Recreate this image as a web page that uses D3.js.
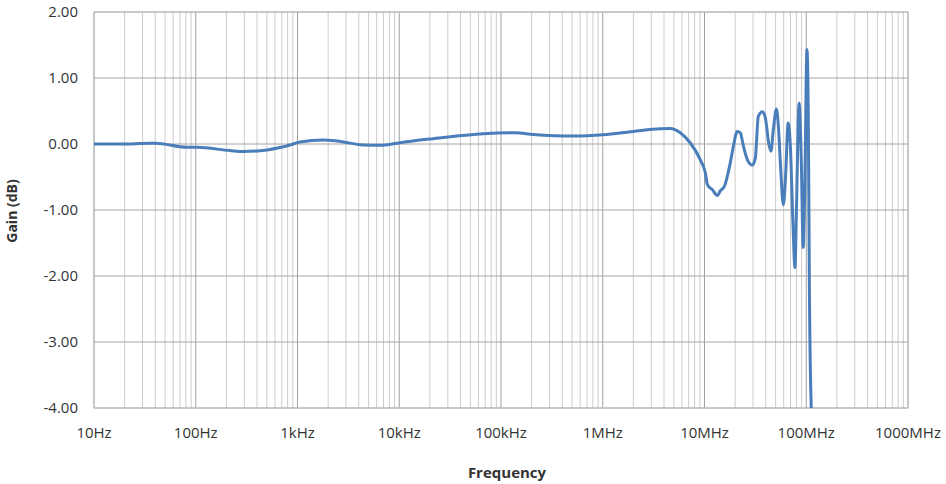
<!DOCTYPE html>
<html>
<head>
<meta charset="utf-8">
<script src="https://cdn.jsdelivr.net/npm/d3@7"></script>
<style>
  body { margin: 0; background: #fff; }
  text { font-family: "Open Sans", Lato, sans-serif; fill: #333; }
</style>
</head>
<body>
<div id="chart"></div>
<script>
// frequence (Hz) et gain (dB)
const freq = [10, 18, 36, 40, 82, 103, 217, 292, 502, 845, 1060, 1790, 2450, 4420, 6490,
  10200, 16100, 21500, 66800, 138000, 207000, 513000, 1.01e6, 2.0e6, 3.67e6, 4.61e6,
  5.78e6, 7.26e6, 9.10e6, 10.2e6, 10.7e6, 11.9e6, 13.4e6, 14.3e6, 15.7e6, 17.9e6,
  19.2e6, 21.0e6, 22.5e6, 24.1e6, 26.4e6, 29.5e6, 31.6e6, 33.8e6, 37.1e6, 39.6e6,
  42.9e6, 45.0e6, 47.5e6, 50.9e6, 53.2e6, 55.7e6, 59.6e6, 62.4e6, 66.4e6, 69.8e6,
  74.0e6, 77.5e6, 80.0e6, 85.0e6, 89.5e6, 93.3e6, 96.4e6, 101.7e6, 105e6, 107.4e6, 112e6];
const gain = [0.0, 0.0, 0.01, 0.01, -0.05, -0.05, -0.10, -0.115, -0.09, -0.015, 0.03, 0.06, 0.045,
  -0.015, -0.02, 0.02, 0.06, 0.08, 0.155, 0.17, 0.145, 0.12, 0.14, 0.19, 0.23, 0.235,
  0.17, 0.015, -0.24, -0.44, -0.62, -0.69, -0.78, -0.71, -0.64, -0.29, -0.04, 0.19,
  0.17, -0.03, -0.24, -0.32, -0.21, 0.42, 0.49, 0.40,
  0.0, -0.11, 0.22, 0.53, 0.27, -0.29, -0.92, -0.54, 0.32, -0.03,
  -1.2, -1.87, -1.04, 0.62, -0.29, -1.57, -0.79, 1.43, 0.22, -2.2, -4.0];

const yTicks = [2, 1, 0, -1, -2, -3, -4];
const xTicks = [1e1, 1e2, 1e3, 1e4, 1e5, 1e6, 1e7, 1e8, 1e9];
const xLabels = ["10Hz", "100Hz", "1kHz", "10kHz", "100kHz", "1MHz", "10MHz", "100MHz", "1000MHz"];

const margin = {top: 12, right: 38, bottom: 76, left: 94},
      width = 946 - margin.left - margin.right,
      height = 484 - margin.top - margin.bottom;

const svg = d3.select("#chart")
    .append("svg")
    .attr("width", 946)
    .attr("height", 484)
    .append("g")
    .attr("transform", "translate(" + margin.left + "," + margin.top + ")");

const x = d3.scaleLog().domain([1e1, 1e9]).range([0, width]);
const y = d3.scaleLinear().domain([-4, 2]).range([height, 0]);

// grille verticale mineure (2..9 de chaque decade)
let minor = [];
for (let d = 1; d < 9; d++) {
  for (let k = 2; k <= 9; k++) minor.push(k * Math.pow(10, d));
}
svg.append("g").selectAll("line").data(minor).join("line")
    .attr("x1", d => x(d)).attr("x2", d => x(d))
    .attr("y1", 0).attr("y2", height)
    .attr("stroke", "#cccccc").attr("stroke-width", 1);

svg.append("g").selectAll("line").data(xTicks).join("line")
    .attr("x1", d => x(d)).attr("x2", d => x(d))
    .attr("y1", 0).attr("y2", height)
    .attr("stroke", "#a0a0a0").attr("stroke-width", 1);

svg.append("g").selectAll("line").data(yTicks).join("line")
    .attr("x1", 0).attr("x2", width)
    .attr("y1", d => y(d)).attr("y2", d => y(d))
    .attr("stroke", "#a6a6a6").attr("stroke-width", 1);

svg.append("rect")
    .attr("width", width).attr("height", height)
    .attr("fill", "none").attr("stroke", "#bfbfbf");

// etiquettes
svg.append("g").selectAll("text").data(yTicks).join("text")
    .attr("x", -16).attr("y", d => y(d)).attr("dy", "0.35em")
    .attr("text-anchor", "end").style("font-size", "15px")
    .text(d => d.toFixed(2));

svg.append("g").selectAll("text").data(xTicks).join("text")
    .attr("x", d => x(d)).attr("y", height + 30)
    .attr("text-anchor", "middle").style("font-size", "15px")
    .text((d, i) => xLabels[i]);

svg.append("text")
    .attr("x", width / 2 + 6).attr("y", height + 70)
    .attr("text-anchor", "middle").style("font-size", "15px").style("font-weight", "bold")
    .text("Frequency");

svg.append("text")
    .attr("transform", "translate(" + (-77) + "," + (height / 2 + 1) + ") rotate(-90)")
    .attr("text-anchor", "middle").style("font-size", "14px").style("font-weight", "bold")
    .text("Gain (dB)");

svg.append("clipPath").attr("id", "clip")
    .append("rect").attr("width", width).attr("height", height);

const line = d3.line()
    .x((d, i) => x(freq[i]))
    .y(d => y(d))
    .curve(d3.curveMonotoneX);

svg.append("path")
    .datum(gain)
    .attr("clip-path", "url(#clip)")
    .attr("d", line)
    .attr("fill", "none")
    .attr("stroke", "#4a7ebb")
    .attr("stroke-width", 3)
    .attr("stroke-linejoin", "round");
</script>
</body>
</html>
